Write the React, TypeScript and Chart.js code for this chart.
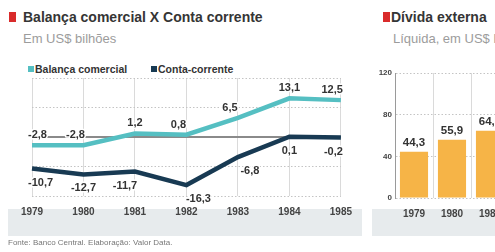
import React, { useEffect, useRef } from "react";
import { Chart, registerables } from "chart.js";

Chart.register(...registerables);

// ---- data ----
const years = ["1979", "1980", "1981", "1982", "1983", "1984", "1985"];
const balancaComercial = [-2.8, -2.8, 1.2, 0.8, 6.5, 13.1, 12.5];
const contaCorrente = [-10.7, -12.7, -11.7, -16.3, -6.8, 0.1, -0.2];
const lineAxisMin = -20;
const lineAxisMax = 20;
const lineAxisStep = 10;

const debtYears = ["1979", "1980", "1981"];
const dividaExterna = [44.3, 55.9, 64.6];
const debtAxisMax = 120;
const debtAxisStep = 40;

// ---- styles ----
const TEAL = "#55BFC2";
const NAVY = "#183A53";
const ORANGE = "#F6B447";
const RED = "#D92B2B";
const BAND = "#E7EBED";
const FONT = "'Liberation Sans', Arial, sans-serif";

const fmt = (v: number) => v.toFixed(1).replace(".", ",");

const lineLabels = {
  id: "lineLabels",
  afterDatasetsDraw(chart: any) {
    const ctx = chart.ctx;
    const area = chart.chartArea;
    ctx.save();
    ctx.font = `bold 11px ${FONT}`;
    ctx.textBaseline = "middle";
    ctx.textAlign = "center";
    chart.data.datasets.forEach((ds: any, di: number) => {
      const meta = chart.getDatasetMeta(di);
      const above = di === 0;
      const vals = ds.data as number[];
      meta.data.forEach((pt: any, i: number) => {
        const txt = fmt(vals[i]);
        const w = ctx.measureText(txt).width;
        let x = pt.x;
        const y = pt.y + (above ? -10 : 14);
        const diff = i < vals.length - 1 ? vals[i + 1] - vals[i] : 0;
        if (above && diff > 3) x -= 8;
        if (!above && diff > 3) x += 12;
        if (!above && diff < -3) x -= 10;
        x = Math.max(area.left - 4 + w / 2, Math.min(area.right + 2 - w / 2, x));
        ctx.lineWidth = 3;
        ctx.lineJoin = "round";
        ctx.strokeStyle = "#ffffff";
        ctx.strokeText(txt, x, y);
        ctx.fillStyle = "#333333";
        ctx.fillText(txt, x, y);
      });
    });
    ctx.restore();
  },
};

const barLabels = {
  id: "barLabels",
  afterDatasetsDraw(chart: any) {
    const ctx = chart.ctx;
    ctx.save();
    ctx.font = `bold 11.5px ${FONT}`;
    ctx.textBaseline = "middle";
    ctx.textAlign = "center";
    const vals = chart.data.datasets[0].data as number[];
    chart.getDatasetMeta(0).data.forEach((bar: any, i: number) => {
      ctx.fillStyle = "#333333";
      ctx.fillText(fmt(vals[i]), bar.x, bar.y - 9);
    });
    ctx.restore();
  },
};

function LineChart() {
  const ref = useRef<HTMLCanvasElement>(null);
  useEffect(() => {
    const chart = new Chart(ref.current!, {
      type: "line",
      data: {
        labels: years,
        datasets: [
          { label: "Balança comercial", data: balancaComercial, borderColor: TEAL, borderWidth: 4.5, pointRadius: 0, tension: 0 },
          { label: "Conta-corrente", data: contaCorrente, borderColor: NAVY, borderWidth: 4.5, pointRadius: 0, tension: 0 },
        ],
      },
      options: {
        responsive: false,
        animation: false,
        layout: { padding: { left: 32, right: 19, top: 78, bottom: 24 } },
        plugins: { legend: { display: false }, tooltip: { enabled: false } },
        scales: {
          x: {
            offset: false,
            grid: { color: "#dadada", lineWidth: 1, drawTicks: false },
            border: { display: false },
            ticks: { padding: 10, color: "#444", font: { family: FONT, size: 10, weight: "bold" }, maxRotation: 0, autoSkip: false },
          },
          y: {
            min: lineAxisMin,
            max: lineAxisMax,
            ticks: { stepSize: lineAxisStep, display: false },
            grid: {
              drawTicks: false,
              color: (c: any) => (c.tick && c.tick.value === 0 ? "#8a8a8a" : "#c4c4c4"),
              lineWidth: (c: any) => (c.tick && c.tick.value === 0 ? 2 : 1),
            },
            border: { display: false, dash: (c: any) => (c.tick && c.tick.value === 0 ? [] : [1.5, 2]) },
          },
        },
      } as any,
      plugins: [lineLabels],
    });
    return () => chart.destroy();
  }, []);
  return <canvas ref={ref} width={362} height={252} style={{ position: "absolute", left: 0, top: 0, width: 362, height: 252 }} />;
}

function BarChart() {
  const ref = useRef<HTMLCanvasElement>(null);
  useEffect(() => {
    const chart = new Chart(ref.current!, {
      type: "bar",
      data: {
        labels: debtYears,
        datasets: [{ label: "Dívida externa", data: dividaExterna, backgroundColor: ORANGE, categoryPercentage: 1, barPercentage: 0.74 }],
      },
      options: {
        responsive: false,
        animation: false,
        layout: { padding: { left: 0, right: 13, top: 73, bottom: 22 } },
        plugins: { legend: { display: false }, tooltip: { enabled: false } },
        scales: {
          x: {
            grid: { color: "#dadada", drawTicks: false, offset: true },
            border: { display: false },
            ticks: { padding: 10, color: "#444", font: { family: FONT, size: 10, weight: "bold" }, maxRotation: 0, autoSkip: false },
          },
          y: {
            min: 0,
            max: debtAxisMax,
            afterFit: (s: any) => { s.width = 33; },
            ticks: { stepSize: debtAxisStep, padding: 3, color: "#444", font: { family: FONT, size: 8, weight: "bold" } },
            grid: { color: "#c4c4c4", drawTicks: false },
            border: { display: true, color: "#9a9a9a", dash: [1.5, 2] },
          },
        },
      } as any,
      plugins: [barLabels],
    });
    return () => chart.destroy();
  }, []);
  return <canvas ref={ref} width={160} height={252} style={{ position: "absolute", left: 362, top: 0, width: 160, height: 252 }} />;
}

export default function App() {
  const abs = (o: React.CSSProperties): React.CSSProperties => ({ position: "absolute", whiteSpace: "nowrap", ...o });
  return (
    <div style={{ position: "absolute", left: 0, top: 0, width: 495, height: 252, overflow: "hidden", background: "#fff", fontFamily: FONT }}>
      {/* bands */}
      <div style={abs({ left: 8, top: 209, width: 354, height: 27, background: BAND })} />
      <div style={abs({ left: 372, top: 209, width: 123, height: 27, background: BAND })} />
      {/* left titles */}
      <div style={abs({ left: 9, top: 12, width: 7, height: 10, background: RED })} />
      <div style={abs({ left: 23, top: 9, fontSize: 14, fontWeight: "bold", color: "#353535", lineHeight: "16px" })}>Balança comercial X Conta corrente</div>
      <div style={abs({ left: 23, top: 31, fontSize: 13, color: "#9c9c9c", lineHeight: "16px" })}>Em US$ bilhões</div>
      {/* legend */}
      <div style={abs({ left: 28, top: 66, width: 6, height: 6, background: TEAL })} />
      <div style={abs({ left: 35, top: 63, fontSize: 10.5, fontWeight: "bold", color: "#333", lineHeight: "12px" })}>Balança comercial</div>
      <div style={abs({ left: 151, top: 66, width: 6, height: 6, background: NAVY })} />
      <div style={abs({ left: 158, top: 63, fontSize: 10.5, fontWeight: "bold", color: "#333", lineHeight: "12px" })}>Conta-corrente</div>
      {/* right titles */}
      <div style={abs({ left: 383, top: 12, width: 7, height: 10, background: RED })} />
      <div style={abs({ left: 391, top: 9, fontSize: 14, fontWeight: "bold", color: "#353535", lineHeight: "16px" })}>Dívida externa</div>
      <div style={abs({ left: 393, top: 31, fontSize: 13, color: "#9c9c9c", lineHeight: "16px" })}>Líquida, em US$ bilhões</div>
      <LineChart />
      <BarChart />
      <div style={abs({ left: 8, top: 238, fontSize: 8, color: "#777", lineHeight: "10px" })}>Fonte: Banco Central. Elaboração: Valor Data.</div>
    </div>
  );
}
